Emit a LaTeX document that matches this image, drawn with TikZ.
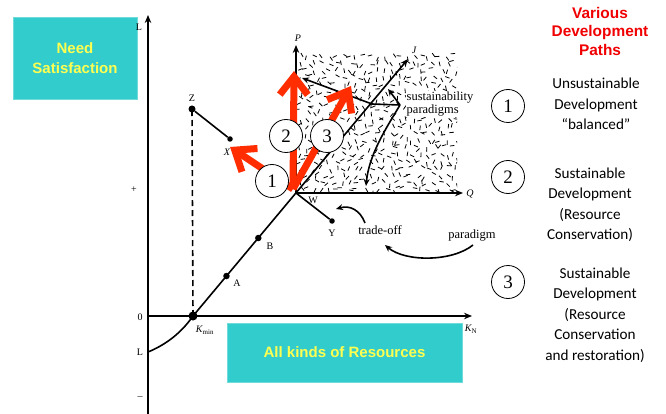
\documentclass[tikz,border=0pt]{standalone}
\usepackage{fontspec}
\setmainfont{Liberation Serif}
\newfontfamily\carl{Carlito}
\newfontfamily\arialb{Liberation Sans}
\usetikzlibrary{arrows.meta,calc}
\definecolor{teal1}{RGB}{51,204,204}
\definecolor{yel}{RGB}{255,255,80}
\definecolor{redarr}{RGB}{255,45,0}
\definecolor{titlered}{RGB}{240,0,0}
\begin{document}
\begin{tikzpicture}[x=1pt,y=-1pt,
 axis/.style={line width=1.6pt,-{Stealth[length=8pt,width=6.5pt]}},
 blk/.style={line width=1.6pt},
 dot/.style={circle,fill=black,inner sep=0pt,minimum size=#1},
 dot/.default=6pt,
 lbl/.style={font=\fontsize{10}{12}\selectfont,inner sep=1pt},
 txt/.style={font=\fontsize{12.5}{14}\selectfont,inner sep=1pt},
 redarrow/.style={draw=redarr,line width=7pt,-{Straight Barb[length=18pt,width=28pt]}},
 numc/.style={circle,draw=black,line width=0.8pt,fill=white,minimum size=33pt,inner sep=0pt,font=\fontsize{19}{19}\selectfont},
 tealbox/.style={fill=teal1,draw=teal1!70!white,line width=0.5pt,text=yel,font=\arialb\bfseries\fontsize{15}{19.5}\selectfont,align=center},
 side/.style={font=\carl\fontsize{15.2}{20.5}\selectfont,align=center}
]
\useasboundingbox (0,0) rectangle (666,414);
% texture
\begin{scope}
\clip (297,52) rectangle (457,193);
\pgfmathsetseed{31}
\foreach \r in {0,...,20}{
 \foreach \c in {0,...,23}{
  \pgfmathsetmacro\px{298+7*\c+5*rnd}
  \pgfmathsetmacro\py{53+7*\r+5*rnd}
  \pgfmathsetmacro\pa{180*rnd}
  \draw[line width=0.8pt] (\px,\py) -- ++(\pa:4.5);
 }
}
\end{scope}
% coordinates
\coordinate (ybot) at (148,414);
\coordinate (ytop) at (148,15);
\coordinate (O) at (148,316);
\coordinate (xend) at (472,316);
\coordinate (Lpt) at (148,352);
\coordinate (W) at (296,193);
\coordinate (J) at (408,59);
\coordinate (Ptop) at (296,45);
\coordinate (Qend) at (463,193);
\coordinate (V) at (400,105);
\coordinate (V2) at (372,104);
\coordinate (Sp) at (302,78);
\coordinate (Sj) at (388,89);
\coordinate (Sq) at (366,186);
\coordinate (R0) at (293,189);
\coordinate (R1) at (230,147);
\coordinate (R2) at (294,71);
\coordinate (R3) at (351,86);
% boxes
\node[tealbox,minimum width=124pt,minimum height=82pt] (need) at (75,58) {Need\\Satisfaction};
\node[tealbox,minimum width=235pt,minimum height=59pt] (res) at (344.5,352.5) {All kinds of Resources};
% axes
\draw[axis] (ybot) -- (ytop);
\draw[axis] (O) -- (xend);
\node[dot=9pt] (Kmin) at (193,316) {};
\draw[blk] (Lpt) .. controls (170,343) and (184,329) .. (Kmin.center);
\draw[blk,-{Stealth[length=8pt,width=6.5pt]}] (Kmin.center) -- (J);
\draw[axis] (W) -- (Ptop);
\draw[axis] (W) -- (Qend);
\node[dot=6.5pt] (A) at ($(Kmin)!0.325!(W)$) {};
\node[dot=6.5pt] (B) at ($(Kmin)!0.634!(W)$) {};
\node[dot=7pt] (Z) at (192,109) {};
\node[dot=5.5pt] (X) at (230,139) {};
\node[dot=5.5pt] (Y) at (332,221) {};
\draw[blk,dashed,dash pattern=on 6pt off 4pt] (Kmin.center) -- (Z.center);
\draw[blk] (Z) -- (X);
\draw[blk] (W) -- (Y);
% sustainability paradigms
\draw[blk,-{Stealth[length=7pt,width=6pt]}] (V) -- (V2) -- (Sp);
\draw[blk,-{Stealth[length=7pt,width=6pt]}] (V) -- (Sj);
\draw[blk,-{Stealth[length=7pt,width=6pt]}] (V) .. controls (385,130) and (369,155) .. (Sq);
\node[txt,anchor=west,align=left,fill=white,inner sep=0.5pt,font=\fontsize{12.5}{13}\selectfont] (sp) at (406,104) {sustainability\\paradigms};
% trade-off
\node[txt] (to) at (380,230) {trade-off};
\coordinate (toa) at (365,223);
\coordinate (tob) at (336,209);
\draw[blk,-{Stealth[length=7pt,width=6pt]}] (toa) .. controls (360,210) and (350,205) .. (tob);
\node[txt] (pd) at (472,236) {paradigm};
\coordinate (pda) at (473,245);
\coordinate (pdb) at (385,245);
\draw[blk,-{Stealth[length=7pt,width=6pt]}] (pda) .. controls (452,262) and (405,262) .. (pdb);
% labels
\node[lbl] (lL) at (139,27) {L};
\node[lbl] (lplus) at (134,190) {+};
\node[lbl] (l0) at (140,317) {0};
\node[lbl] (lL2) at (140,352) {L};
\node[lbl] (lminus) at (140,398) {--};
\node[lbl] (lZ) at (192,98) {Z};
\node[lbl] (lX) at (227,152) {\itshape X};
\node[lbl] (lA) at (237,283) {A};
\node[lbl] (lB) at (270,246) {B};
\node[lbl] (lW) at (313,200) {W};
\node[lbl] (lY) at (332,233) {Y};
\node[lbl] (lP) at (298,38) {\itshape P};
\node[lbl] (lQ) at (470,194) {\itshape Q};
\node[lbl] (lJ) at (414,50) {\itshape J};
\node[lbl] (lK) at (205,330) {{\itshape K}\textsubscript{min}};
\node[lbl] (lKN) at (471,329) {{\itshape K}\textsubscript{N}};
% red arrows
\draw[redarrow] (R0) -- (R1);
\draw[redarrow] (R0) -- (R2);
\draw[redarrow] (R0) -- (R3);
% circles
\node[numc] (c1) at (272,181) {1};
\node[numc] (c2) at (286,136) {2};
\node[numc] (c3) at (327,136) {3};
% right column
\node[font=\arialb\bfseries\fontsize{15.4}{18.5}\selectfont,text=titlered,align=center] (title) at (600,31) {Various\\Development\\Paths};
\node[numc] (r1) at (508,106) {1};
\node[numc] (r2) at (508,177) {2};
\node[numc] (r3) at (508,282) {3};
\node[side] (t1) at (596,104) {Unsustainable\\Development\\“balanced”};
\node[side] (t2) at (590,205) {Sustainable\\Development\\(Resource\\Conservation)};
\node[side] (t3) at (595,315) {Sustainable\\Development\\(Resource\\Conservation\\and restoration)};
\end{tikzpicture}
\end{document}
